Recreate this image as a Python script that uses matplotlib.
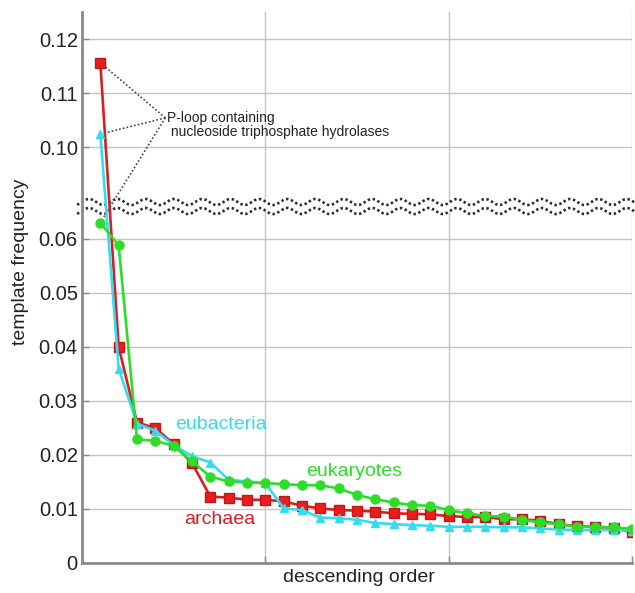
import numpy as np
import matplotlib
matplotlib.use("Agg")
import matplotlib.pyplot as plt
from matplotlib.ticker import FixedLocator, FuncFormatter

plt.rcParams['font.family'] = ['Liberation Sans', 'DejaVu Sans']

# ---- data ----
rank = list(range(1, 31))
archaea = [0.1156, 0.040, 0.026, 0.025, 0.022, 0.0185, 0.0123, 0.0121, 0.0117, 0.0117,
           0.0114, 0.0106, 0.0101, 0.0098, 0.0097, 0.0095, 0.0092, 0.0091, 0.0090, 0.0087,
           0.0085, 0.0085, 0.0081, 0.0081, 0.0078, 0.0072, 0.0068, 0.0067, 0.0065, 0.0057]
eukaryotes = [0.063, 0.0588, 0.0229, 0.0226, 0.0217, 0.0188, 0.0160, 0.0151, 0.0149, 0.0148,
              0.0146, 0.0144, 0.0144, 0.0138, 0.0126, 0.0118, 0.0112, 0.0107, 0.0106, 0.0098,
              0.0092, 0.0087, 0.0086, 0.0080, 0.0075, 0.0072, 0.0067, 0.0067, 0.0066, 0.0063]
eubacteria = [0.1024, 0.036, 0.0258, 0.0245, 0.0218, 0.0198, 0.0186, 0.0154, 0.0151, 0.0148,
              0.0101, 0.0098, 0.0084, 0.0083, 0.0080, 0.0074, 0.0072, 0.0070, 0.0069, 0.0067,
              0.0067, 0.0067, 0.0066, 0.0066, 0.0064, 0.0062, 0.0061, 0.0061, 0.0061, 0.0060]
ytick_vals = [0, 0.01, 0.02, 0.03, 0.04, 0.05, 0.06, 0.10, 0.11, 0.12]
annotation = "P-loop containing\n nucleoside triphosphate hydrolases"

# broken y-axis scale
BREAK = 0.066
GAP = 0.023

def fwd(y):
    y = np.asarray(y, dtype=float)
    return np.where(y <= BREAK, y, np.where(y >= BREAK + GAP, y - GAP, BREAK))

def inv(u):
    u = np.asarray(u, dtype=float)
    return np.where(u <= BREAK, u, u + GAP)

fig = plt.figure(figsize=(6.35, 5.93), dpi=100)
ax = fig.add_axes([82/635, 30/593, 550/635, 551/593])
ax.set_yscale('function', functions=(fwd, inv))
ax.set_xlim(0, 30)
ax.set_ylim(0, 0.125)

ax.yaxis.set_major_locator(FixedLocator(ytick_vals))
ax.yaxis.set_major_formatter(FuncFormatter(lambda v, p: '0' if v == 0 else f'{v:.2f}'))
ax.xaxis.set_major_locator(FixedLocator([10, 20, 30]))
ax.set_xticklabels([])
ax.grid(True, color='#c4c4c4', linewidth=1.0, zorder=0)
ax.set_axisbelow(True)
for s in ['top', 'right']:
    ax.spines[s].set_visible(False)
for s in ['left', 'bottom']:
    ax.spines[s].set_color('#8a8a8a')
    ax.spines[s].set_linewidth(2)
ax.tick_params(axis='both', direction='in', color='#8a8a8a', length=5, width=1,
               labelsize=14.5, labelcolor='#222222')
ax.tick_params(axis='y', pad=3)

RED = '#ec1c1c'
GREEN = '#2fdc28'
CYAN = '#35dcee'

ax.plot(rank, archaea, color='#d42020', lw=1.9, marker='s', ms=7.5,
        mfc=RED, mec='#c01818', mew=1, zorder=3)
ax.plot(rank, eubacteria, color=CYAN, lw=1.9, marker='^', ms=5.5,
        mfc=CYAN, mec=CYAN, zorder=4)
ax.plot(rank, eukaryotes, color=GREEN, lw=1.9, marker='o', ms=6.5,
        mfc=GREEN, mec=GREEN, zorder=5)

# wavy break band (axes coordinates)
xs = np.linspace(-0.009, 1.005, 600)
phase = 2 * np.pi * (xs * 550) / 28.3
amp = 3.0 / 551
yu = (563 - 202) / 551 + amp * np.sin(phase)
yl = (563 - 211) / 551 + amp * np.sin(phase)
ax.fill_between(xs, yu, yl, transform=ax.transAxes, color='white', zorder=2,
                clip_on=False, lw=0)
ax.plot(xs, yu, transform=ax.transAxes, color='#2a2a2a', lw=1.9, ls=(0, (0.9, 1.0)),
        zorder=2.5, clip_on=False)
ax.plot(xs, yl, transform=ax.transAxes, color='#2a2a2a', lw=1.9, ls=(0, (0.9, 1.0)),
        zorder=2.5, clip_on=False)

# annotation
ax_x = (165 - 81.7) / 18.33
ax_y = inv((563 - 118) / 5400.0)
for yy in (archaea[0], eubacteria[0], eukaryotes[0]):
    ax.plot([ax_x, 1], [ax_y, yy], color='#444444', lw=1.2, ls=(0, (1.0, 1.3)), zorder=2.6)
ax.text(ax_x + 0.1, inv((563 - 111) / 5400.0), annotation, fontsize=10, ha='left', va='top',
        color='#222222', linespacing=1.05, zorder=6)

# series labels
ax.text(7.6, 0.0256, 'eubacteria', color=CYAN, fontsize=14, ha='center', va='center', zorder=6)
ax.text(14.86, 0.0169, 'eukaryotes', color=GREEN, fontsize=14, ha='center', va='center', zorder=6)
ax.text(7.49, 0.0080, 'archaea', color='#d42020', fontsize=14, ha='center', va='center', zorder=6)

fig.text(21/635, 1 - 262/593, 'template frequency', rotation=90, ha='center', va='center',
         fontsize=14, color='#222222')
fig.text(359/635, 1 - 578/593, 'descending order', ha='center', va='center',
         fontsize=14, color='#222222')

fig.savefig('out.png', dpi=100)
